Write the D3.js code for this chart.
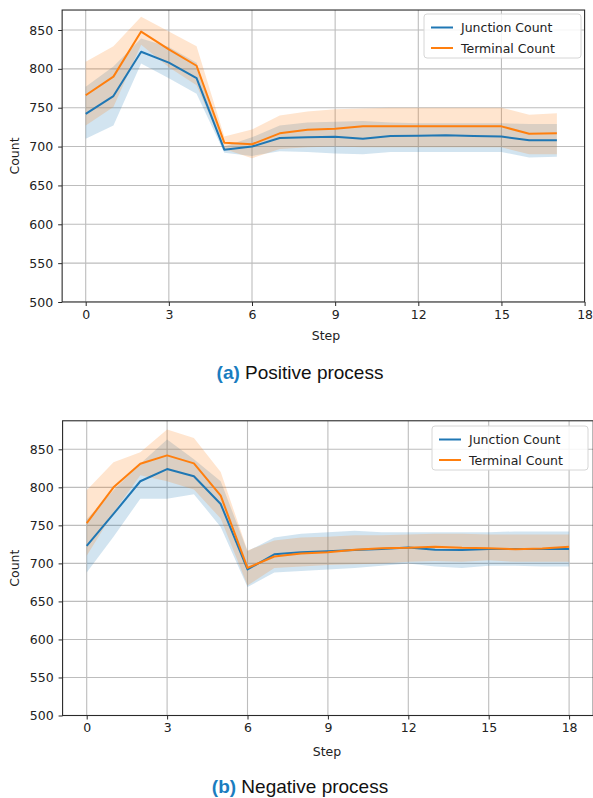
<!DOCTYPE html>
<html>
<head>
<meta charset="utf-8">
<script src="https://cdn.jsdelivr.net/npm/d3@7"></script>
<style>
  html, body { margin: 0; padding: 0; background: #fff; }
  svg { display: block; }
</style>
</head>
<body>
<svg id="chart" width="593" height="798"></svg>
<script>
// ---------- DATA ----------
const yTicks = [500, 550, 600, 650, 700, 750, 800, 850];
const xTicks = [0, 3, 6, 9, 12, 15, 18];
const seriesNames = ["Junction Count", "Terminal Count"];

// (a) Positive process, steps 0..17
const posSteps = d3.range(0, 18);
const posJunction      = [742, 765, 822, 808, 788, 696, 700, 711, 712, 712.5, 710, 713.5, 714, 714.5, 713.5, 713, 708, 708];
const posJunctionHigh  = [777, 803, 839, 828, 808, 700, 712, 727, 731, 732, 733, 731, 730, 730, 730, 730, 729, 729];
const posJunctionLow   = [710, 727, 807, 788, 768, 692, 688, 694, 693, 691, 690, 693, 693, 693, 693, 693, 686, 687];
const posTerminal      = [766, 790, 848, 825, 804, 705, 703, 717, 721.5, 723, 726, 726, 726, 726, 726, 726, 716.5, 717];
const posTerminalHigh  = [809, 829, 867, 848, 829, 713, 722, 740, 745, 748, 749, 750, 750, 750, 750, 750, 741, 743];
const posTerminalLow   = [727, 751, 831, 802, 779, 697, 685, 697, 699, 700, 699, 699, 699, 699, 699, 699, 690, 690];

// (b) Negative process, steps 0..18
const negSteps = d3.range(0, 19);
const negJunction      = [723, 765, 808, 824, 814.5, 778, 692, 712, 714.5, 716, 717.5, 719, 721, 718, 717.5, 719, 719, 719, 719];
const negJunctionHigh  = [758, 796, 831, 863, 837, 808, 716, 734, 739, 741, 743, 741, 741, 741, 741, 741, 742, 742, 742];
const negJunctionLow   = [688, 735, 785, 785, 791, 748, 669, 688, 690, 692, 694, 697, 700, 696, 694, 697, 697, 696, 696];
const negTerminal      = [753, 800, 831, 842, 831.5, 789, 694, 709, 713, 714.5, 718, 720, 720.5, 722, 720.5, 720, 718.5, 719.5, 722];
const negTerminalHigh  = [796, 833, 846, 876, 865, 820, 717, 730, 734, 735, 737, 737, 738, 739, 739, 738, 738, 738, 738];
const negTerminalLow   = [710, 767, 816, 808, 797, 759, 671, 694, 696, 698, 699, 700, 702, 703, 702, 704, 702, 702, 702];

// ---------- STYLE ----------
const colors = ["#1f77b4", "#ff7f0e"];
const tickFont = "DejaVu Sans, sans-serif";
const svg = d3.select("#chart");

function drawPanel(cfg) {
  const g = svg.append("g");
  const x = d3.scaleLinear().domain([0, 18]).range([cfg.x0, cfg.x18]);
  const y = d3.scaleLinear().domain([500, 850]).range([cfg.y500, cfg.y850]);
  const left = x(cfg.xmin), right = x(cfg.xmax);
  const top = y(cfg.ymax), bottom = y(500);

  const clipId = "clip" + cfg.id;
  svg.append("clipPath").attr("id", clipId)
    .append("rect").attr("x", left).attr("y", top)
    .attr("width", right - left).attr("height", bottom - top);

  // grid
  const grid = g.append("g").attr("clip-path", `url(#${clipId})`);
  grid.selectAll("line.gx").data(xTicks).join("line")
    .attr("x1", d => x(d)).attr("x2", d => x(d))
    .attr("y1", top).attr("y2", bottom)
    .attr("stroke", "#bdbdbd").attr("stroke-width", 1.1);
  grid.selectAll("line.gy").data(yTicks).join("line")
    .attr("x1", left).attr("x2", right)
    .attr("y1", d => y(d)).attr("y2", d => y(d))
    .attr("stroke", "#bdbdbd").attr("stroke-width", 1.1);

  // bands and lines
  const plot = g.append("g").attr("clip-path", `url(#${clipId})`);
  cfg.series.forEach((s, i) => {
    const rows = cfg.steps.map((st, k) => ({ st, lo: s.low[k], hi: s.high[k] }));
    const area = d3.area().x(d => x(d.st)).y0(d => y(d.lo)).y1(d => y(d.hi));
    plot.append("path").datum(rows).attr("d", area)
      .attr("fill", colors[i]).attr("fill-opacity", 0.2).attr("stroke", "none");
  });
  cfg.series.forEach((s, i) => {
    const rows = cfg.steps.map((st, k) => ({ st, m: s.mean[k] }));
    const line = d3.line().x(d => x(d.st)).y(d => y(d.m));
    plot.append("path").datum(rows).attr("d", line)
      .attr("fill", "none").attr("stroke", colors[i]).attr("stroke-width", 2)
      .attr("stroke-linejoin", "round");
  });

  // frame
  g.append("rect").attr("x", left).attr("y", top)
    .attr("width", right - left).attr("height", bottom - top)
    .attr("fill", "none").attr("stroke", "#2a2a2a").attr("stroke-width", 1.1);

  // axes
  const xAxis = d3.axisBottom(x).tickValues(xTicks).tickSize(4).tickPadding(4).tickSizeOuter(0);
  const gx = g.append("g").attr("transform", `translate(0,${bottom})`).call(xAxis);
  gx.select(".domain").remove();
  gx.selectAll("line").attr("stroke", "#2a2a2a");
  gx.selectAll("text").attr("font-family", tickFont).attr("font-size", 12.5).attr("fill", "#222");

  const yAxis = d3.axisLeft(y).tickValues(yTicks).tickSize(4).tickPadding(5).tickSizeOuter(0);
  const gy = g.append("g").attr("transform", `translate(${left},0)`).call(yAxis);
  gy.select(".domain").remove();
  gy.selectAll("line").attr("stroke", "#2a2a2a");
  gy.selectAll("text").attr("font-family", tickFont).attr("font-size", 12.5).attr("fill", "#222");

  // axis labels
  g.append("text").attr("x", cfg.stepX).attr("y", cfg.stepY)
    .attr("text-anchor", "middle").attr("dominant-baseline", "central")
    .attr("font-family", tickFont).attr("font-size", 12.5).attr("fill", "#222").text("Step");
  g.append("text").attr("transform", `translate(14,${(top + bottom) / 2}) rotate(-90)`)
    .attr("text-anchor", "middle").attr("dominant-baseline", "central")
    .attr("font-family", tickFont).attr("font-size", 12.5).attr("fill", "#222").text("Count");

  // legend
  const lg = g.append("g").attr("transform", `translate(${cfg.legX},${cfg.legY})`);
  lg.append("rect").attr("x", 0).attr("y", 0).attr("width", cfg.legW).attr("height", 44)
    .attr("rx", 3).attr("fill", "#fff").attr("fill-opacity", 0.85)
    .attr("stroke", "#d6d6d6").attr("stroke-width", 1);
  seriesNames.forEach((nm, i) => {
    const yy = 13.5 + i * 20.5;
    lg.append("line").attr("x1", 7).attr("x2", 29).attr("y1", yy).attr("y2", yy)
      .attr("stroke", colors[i]).attr("stroke-width", 2);
    lg.append("text").attr("x", 37).attr("y", yy).attr("dominant-baseline", "central")
      .attr("font-family", tickFont).attr("font-size", 12.5).attr("fill", "#222").text(nm);
  });

  // caption
  const cap = svg.append("text").attr("x", 300).attr("y", cfg.capY)
    .attr("text-anchor", "middle").attr("dominant-baseline", "central")
    .attr("font-family", "Liberation Sans, Arial, sans-serif").attr("font-size", 19).attr("fill", "#111");
  cap.append("tspan").attr("font-weight", "bold").attr("fill", "#1a7dc0").text(cfg.capLetter);
  cap.append("tspan").text(" " + cfg.capText);
}

drawPanel({
  id: "a", steps: posSteps,
  series: [
    { mean: posJunction, low: posJunctionLow, high: posJunctionHigh },
    { mean: posTerminal, low: posTerminalLow, high: posTerminalHigh }
  ],
  x0: 85.7, x18: 584.6, xmin: -0.85, xmax: 18, stepX: 326,
  y500: 302, y850: 30, ymax: 875.7,
  stepY: 335, legX: 424, legY: 14, legW: 157,
  capY: 372, capLetter: "(a)", capText: "Positive process"
});

drawPanel({
  id: "b", steps: negSteps,
  series: [
    { mean: negJunction, low: negJunctionLow, high: negJunctionHigh },
    { mean: negTerminal, low: negTerminalLow, high: negTerminalHigh }
  ],
  x0: 86.7, x18: 569.1, xmin: -0.9, xmax: 18.9, stepX: 327,
  y500: 715.5, y850: 449.3, ymax: 887.5,
  stepY: 751, legX: 432, legY: 426, legW: 156,
  capY: 786, capLetter: "(b)", capText: "Negative process"
});
</script>
</body>
</html>
